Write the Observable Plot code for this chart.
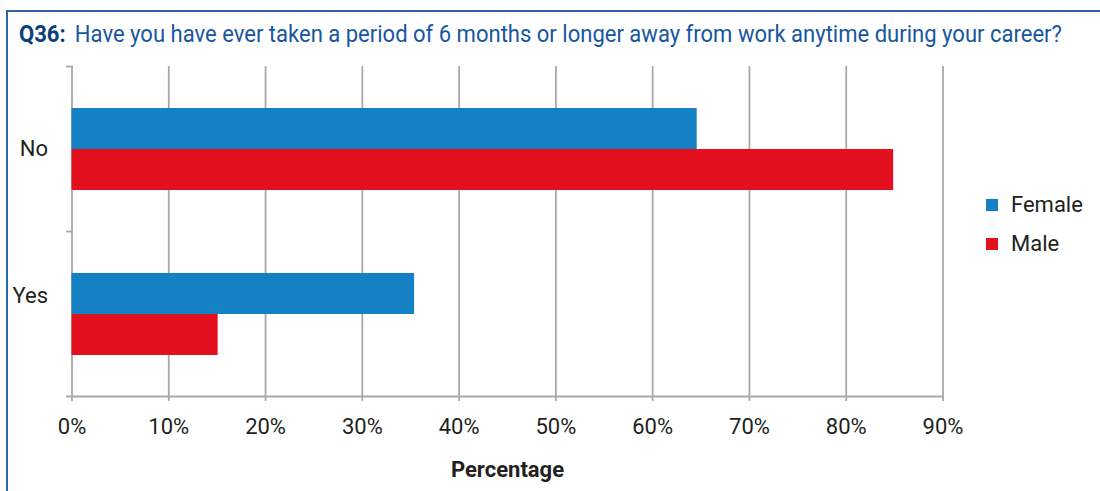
<!DOCTYPE html>
<html>
<head>
<meta charset="utf-8">
<script src="https://cdn.jsdelivr.net/npm/d3@7"></script>
<script src="https://cdn.jsdelivr.net/npm/@observablehq/plot@0.6"></script>
<style>
  html, body { margin: 0; padding: 0; background: #fff; }
  body { width: 1100px; height: 491px; position: relative; overflow: hidden;
         font-family: Roboto, "Liberation Sans", sans-serif; }
  #box { position: absolute; left: 6px; top: 10px; width: 1100px; height: 490px;
         border-top: 2px solid #2c66a6; border-left: 2px solid #2c66a6; }
  #title { position: absolute; left: 19px; top: 22px; font-size: 24px; line-height: 24px;
           color: #1757a0; white-space: nowrap; transform-origin: 0 0; }
  #title b { color: #0d3f7c; margin-right: 10px; }
  #chart { position: absolute; left: 0; top: 50px; }
  #legend { position: absolute; left: 986px; top: 190px; font-size: 22px; color: #231f20; }
  .item { position: relative; height: 39px; line-height: 30px; }
  .sw { position: absolute; left: 0; top: 9px; width: 12px; height: 12px; }
  .lab { position: absolute; left: 25px; top: 0; white-space: nowrap; }
  g[aria-label="x-axis label"] text { font-weight: bold; }
</style>
</head>
<body>
<div id="box"></div>
<div id="title"><b>Q36:</b>Have you have ever taken a period of 6 months or longer away from work anytime during your career?</div>
<div id="chart"></div>
<div id="legend"></div>
<script>
// ---- data ----
const answers = ["No", "Yes"];
const genders = ["Female", "Male"];
const femaleValues = [64.6, 35.4];
const maleValues = [84.9, 15.1];
const xTicks = [0, 10, 20, 30, 40, 50, 60, 70, 80, 90];
const colors = ["#1581c5", "#e31120"];

const rows = [];
answers.forEach((a, i) => {
  rows.push({answer: a, gender: "Female", value: femaleValues[i]});
  rows.push({answer: a, gender: "Male", value: maleValues[i]});
});

// condense the title to the reference width
const title = document.getElementById("title");
const tw = title.getBoundingClientRect().width;
const targetW = 1043;
title.style.transform = `scaleX(${Math.min(1, targetW / tw)})`;

const W = 980, H = 441, mL = 71.5, mR = 37.5, mT = 15, mB = 95;
const plotW = W - mL - mR;
const gray = "#a8a8a8";
const ink = "#231f20";
const font = 'Roboto, "Liberation Sans", sans-serif';

const catLabel = (cat, dy) => Plot.text([cat], {
  fy: d => d, text: d => d, frameAnchor: "left", textAnchor: "end",
  dx: -24, dy, fontSize: 22, fill: ink
});

const chart = Plot.plot({
  width: W, height: H,
  marginLeft: mL, marginRight: mR, marginTop: mT, marginBottom: mB,
  style: {fontFamily: font, color: ink, background: "transparent"},
  x: {domain: [0, 90]},
  y: {domain: genders, paddingInner: 0, paddingOuter: 0.97, axis: null},
  fy: {domain: answers, padding: 0, axis: null},
  color: {domain: genders, range: colors},
  marks: [
    Plot.gridX(xTicks, {stroke: gray, strokeOpacity: 1, strokeWidth: 1.8}),
    Plot.barX(rows, {x: "value", y: "gender", fy: "answer", fill: "gender"}),
    Plot.frame({anchor: "top", stroke: gray, strokeWidth: 1.8, insetLeft: -5, insetRight: plotW}),
    Plot.frame({anchor: "bottom", facet: "super", stroke: gray, strokeWidth: 1.8, insetLeft: -5}),
    catLabel(answers[0], 0),
    catLabel(answers[1], -18),
    Plot.axisX(xTicks, {
      tickFormat: d => d + "%", tickSize: 5, tickPadding: 17, stroke: gray, strokeWidth: 1.8,
      fontSize: 22, fill: ink, label: "Percentage", labelAnchor: "center", labelArrow: "none", labelOffset: 80
    })
  ]
});
document.getElementById("chart").appendChild(chart);

const legend = document.getElementById("legend");
genders.forEach((g, i) => {
  const item = document.createElement("div");
  item.className = "item";
  item.innerHTML = `<div class="sw" style="background:${colors[i]}"></div><div class="lab">${g}</div>`;
  legend.appendChild(item);
});
</script>
</body>
</html>
